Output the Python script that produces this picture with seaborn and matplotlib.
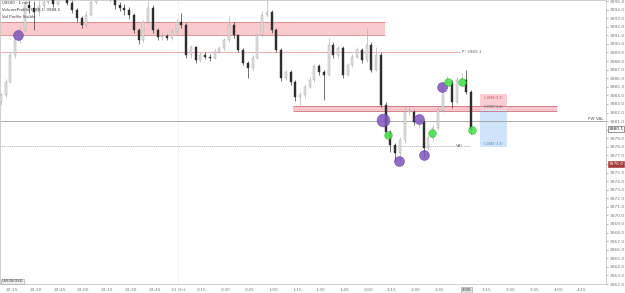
import numpy as np
import matplotlib
matplotlib.use("Agg")
import matplotlib.pyplot as plt
import matplotlib.transforms as mtransforms
import seaborn as sns
import pandas as pd

# 3-minute candles, time in minutes after 22:15
first_open = 3983.2
closes = [3984.0, 3985.6, 3988.7, 3990.4, 3991.6, 3994.5, 3994.2, 3993.7, 3994.4, 3994.9,
          3995.6, 3994.7, 3995.8, 3996.2, 3994.8, 3993.9, 3993.0, 3992.2, 3993.4, 3994.9,
          3995.8, 3996.3, 3996.0, 3995.5, 3994.5, 3994.2, 3993.9, 3993.4, 3991.6, 3990.4,
          3992.5, 3994.2, 3991.6, 3990.8, 3990.9, 3990.7, 3991.4, 3992.5, 3992.2, 3988.7,
          3989.6, 3988.1, 3988.7, 3988.5, 3988.4, 3989.1, 3989.5, 3990.4, 3992.2, 3991.0,
          3989.3, 3987.8, 3987.2, 3988.4, 3991.0, 3993.4, 3993.7, 3991.6, 3989.3, 3986.0,
          3986.7, 3985.6, 3983.8, 3984.0, 3985.0, 3985.8, 3987.4, 3986.7, 3986.4, 3989.9,
          3988.7, 3989.5, 3986.4, 3987.5, 3988.5, 3989.3, 3988.1, 3989.9, 3987.0, 3988.7,
          3982.9, 3979.7, 3978.2, 3977.3, 3978.8, 3982.1, 3982.1, 3980.9, 3980.9, 3977.9,
          3979.0, 3980.2, 3982.3, 3985.2, 3985.6, 3983.2, 3985.8, 3985.8, 3984.4, 3980.0]
highs = [3984.3, 3985.9, 3989.0, 3990.8, 3992.0, 3996.5, 3995.4, 3995.0, 3995.2, 3995.6,
         3996.4, 3996.0, 3996.4, 3996.9, 3996.5, 3995.2, 3994.2, 3993.3, 3993.8, 3995.3,
         3996.5, 3996.9, 3996.8, 3996.4, 3995.8, 3994.9, 3994.6, 3994.3, 3993.6, 3991.9,
         3992.8, 3995.3, 3994.5, 3991.9, 3991.3, 3991.2, 3991.7, 3992.9, 3993.6, 3992.4,
         3989.9, 3989.8, 3989.0, 3989.0, 3988.8, 3989.4, 3989.8, 3990.7, 3993.2, 3992.5,
         3991.2, 3989.5, 3988.0, 3988.7, 3991.3, 3993.8, 3995.4, 3994.0, 3991.8, 3989.5,
         3987.0, 3986.9, 3985.8, 3984.4, 3985.3, 3986.1, 3987.7, 3987.6, 3987.0, 3990.7,
         3990.2, 3989.8, 3989.7, 3987.8, 3988.8, 3989.6, 3989.5, 3991.8, 3990.2, 3989.6,
         3989.0, 3983.2, 3980.0, 3978.5, 3979.2, 3982.6, 3982.6, 3982.3, 3981.4, 3981.1,
         3979.4, 3980.5, 3982.6, 3985.6, 3986.2, 3985.8, 3986.1, 3986.6, 3987.0, 3984.6]
lows = [3982.9, 3983.8, 3985.4, 3988.3, 3990.1, 3991.4, 3993.6, 3991.6, 3993.3, 3994.0,
        3994.6, 3994.3, 3994.5, 3995.4, 3994.5, 3993.6, 3992.6, 3991.9, 3992.0, 3993.2,
        3994.6, 3995.5, 3995.6, 3995.0, 3994.1, 3993.8, 3993.4, 3992.9, 3991.3, 3990.0,
        3990.2, 3992.3, 3991.3, 3990.5, 3990.4, 3990.4, 3990.5, 3991.2, 3991.8, 3988.4,
        3988.4, 3987.8, 3987.9, 3988.2, 3988.0, 3988.2, 3988.9, 3989.3, 3990.2, 3990.7,
        3989.0, 3987.5, 3986.0, 3987.0, 3988.2, 3990.8, 3993.1, 3991.3, 3989.0, 3985.7,
        3985.8, 3985.2, 3983.3, 3982.8, 3983.7, 3984.8, 3985.6, 3986.4, 3983.5, 3986.2,
        3988.4, 3988.3, 3986.0, 3986.2, 3987.3, 3988.3, 3987.8, 3987.9, 3986.7, 3986.8,
        3982.6, 3979.2, 3977.4, 3976.3, 3976.4, 3978.5, 3981.7, 3980.6, 3980.2, 3976.8,
        3977.6, 3978.8, 3980.0, 3982.1, 3984.9, 3982.5, 3983.0, 3985.2, 3984.1, 3979.5]

# signal circles (minutes, price)
purple_t = [3.8, 244.4, 257.1, 260.2, 271.6]
purple_p = [3991.0, 3976.35, 3981.25, 3977.05, 3985.0]
big_purple_t = [234.3]
big_purple_p = [3981.1]
green_t = [237.5, 265.3, 275.4, 284.2, 290.5]
green_p = [3979.4, 3979.6, 3985.6, 3985.6, 3980.0]

# the 3:00 slot is covered by the current-time tag
time_labels = ["22:15", "22:30", "22:45", "23:00", "23:15", "23:30", "23:45", "31 Oct",
               "0:15", "0:30", "0:45", "1:00", "1:15", "1:30", "1:45", "2:00", "2:15",
               "2:30", "2:45", "", "3:15", "3:30", "3:45", "4:00", "4:15"]
price_ticks = list(range(3962, 3996))

# levels / zones
supply_zone = (3991.0, 3992.6)
demand_zone = (3982.15, 3982.8)
p_level = 3989.05
pw_val = 3981.0
val_level = 3978.1
stop_box = (3982.3, 3984.1)
target_box = (3978.0, 3982.3)

sns.set_style("white")
fig = plt.figure(figsize=(6.25, 2.93), dpi=100)
ax = fig.add_axes([0.0, 9 / 293, 606 / 625, 284 / 293])

df = pd.DataFrame({"open": [first_open] + closes[:-1], "close": closes,
                   "high": highs, "low": lows})
df["t"] = np.arange(len(df)) * 3 - 7
up = df["close"] >= df["open"]
dn = ~up

# zones and lines
ax.fill_between([-8, 235.6], *supply_zone, color="#fbcacd", lw=0, zorder=0.5)
ax.hlines(supply_zone, -8, 235.6, color="#d9878d", lw=0.6, zorder=0.6)
ax.fill_between([177.5, 344.2], *demand_zone, color="#f7c5cb", lw=0, zorder=0.5)
ax.hlines(demand_zone, 177.5, 344.2, color="#c9727c", lw=0.6, zorder=0.6)
ax.hlines(p_level, -8, 283, color="#e3a1a6", lw=0.6, zorder=0.6)
ax.text(284, p_level, "P: 3989.1", fontsize=3, color="#666", va="center")
ax.axhline(pw_val, color="#9e9e9e", lw=0.6, zorder=0.6)
ax.text(374, pw_val + 0.05, "PW VAL", fontsize=3, color="#555", ha="right", va="bottom")
ax.hlines(val_level, -8, 289, color="#a8a8a8", lw=0.5, linestyles=(0, (2, 1)), zorder=0.6)
ax.text(283, val_level, "VAL", fontsize=3, color="#555", va="center", ha="center",
        bbox=dict(fc="white", ec="none", pad=0.3))
ax.axvline(105, color="#e4e4e4", lw=0.6, ls=(0, (1, 1)), zorder=0.4)

# risk / reward box
ax.fill_between([295.6, 312.6], *stop_box, color="#f9cdd3", lw=0, zorder=0.5)
ax.fill_between([295.6, 312.6], *target_box, color="#cfe4fb", lw=0, zorder=0.5)
ax.text(304, stop_box[1] - 0.15, "1.0884 (1.2)", fontsize=2.2, color="#c0505a", ha="center", va="top")
ax.text(304, stop_box[0] + 0.1, "2.0887 (1.8)", fontsize=2.2, color="#666", ha="center", va="bottom")
ax.text(304, target_box[0] + 0.1, "1.0887 (1.8)", fontsize=2.2, color="#4a7fc0", ha="center", va="bottom")

# candles
ax.vlines(df["t"][up], df["low"][up], df["high"][up], color="#b3b3b3", lw=0.5, zorder=2)
ax.vlines(df["t"][dn], df["low"][dn], df["high"][dn], color="#3a3a3a", lw=0.5, zorder=2)
body_lo = df[["open", "close"]].min(axis=1)
body_h = (df["close"] - df["open"]).abs().clip(lower=0.08)
ax.bar(df["t"][up], body_h[up], bottom=body_lo[up], width=1.3, color="#e2e2e2",
       edgecolor="#a0a0a0", lw=0.3, zorder=3)
ax.bar(df["t"][dn], body_h[dn], bottom=body_lo[dn], width=1.3, color="#2e2e2e",
       edgecolor="#2e2e2e", lw=0.3, zorder=3)

# signals
sns.scatterplot(x=purple_t, y=purple_p, ax=ax, s=50, color="#7d55bb", alpha=0.85,
                edgecolor="#5e3a9c", linewidth=0.4, zorder=5)
sns.scatterplot(x=big_purple_t, y=big_purple_p, ax=ax, s=85, color="#7d55bb", alpha=0.85,
                edgecolor="#5e3a9c", linewidth=0.4, zorder=5)
sns.scatterplot(x=green_t, y=green_p, ax=ax, s=30, color="#4fe04f", alpha=0.9,
                edgecolor="#2fb52f", linewidth=0.4, zorder=5)

ax.set_xlim(-7.6, 375.2)
ax.set_ylim(3962.0, 3995.12)
ax.set_xticks(np.arange(len(time_labels)) * 15)
ax.set_xticklabels(time_labels)
ax.yaxis.tick_right()
ax.set_yticks(price_ticks)
ax.set_yticklabels([f"{v:.1f}" for v in price_ticks])
ax.tick_params(axis="both", labelsize=3.2, colors="#777", length=1.5, width=0.4, pad=1.2)
for s in ax.spines.values():
    s.set_color("#c8c8c8")
    s.set_linewidth(0.6)
ax.set_xlabel("")
ax.set_ylabel("")

# right-axis price tags
tr_y = mtransforms.blended_transform_factory(ax.transAxes, ax.transData)
ax.text(1.004, 3980.1, "3980.1", transform=tr_y, fontsize=3.2, color="#222", va="center",
        bbox=dict(fc="white", ec="#444", lw=0.4, pad=0.5), clip_on=False)
ax.text(1.004, 3976.0, "3976.0", transform=tr_y, fontsize=3.2, color="white", va="center",
        bbox=dict(fc="#a23838", ec="#a23838", lw=0.4, pad=0.5), clip_on=False)
tr_x = mtransforms.blended_transform_factory(ax.transData, ax.transAxes)
ax.text(287, -0.014, "3:05", transform=tr_x, fontsize=3.2, color="#222", ha="center", va="top",
        bbox=dict(fc="#dedede", ec="#999", lw=0.4, pad=0.5), clip_on=False)

# header / corner labels
fig.text(0.004, 0.995, "US500 · 1 min", fontsize=2.8, color="#333", va="top")
fig.text(0.004, 0.972, "VolumeProfile 3989.1  3988.5", fontsize=2.8, color="#333", va="top")
fig.text(0.004, 0.949, "Vol Profile Visible", fontsize=2.8, color="#333", va="top")
ax.text(0.003, 0.006, "US500/USD", transform=ax.transAxes, fontsize=2.6, color="#333",
        bbox=dict(fc="#eeeeee", ec="#999", lw=0.4, pad=0.4))

fig.savefig("out.png", dpi=100, facecolor="white")
